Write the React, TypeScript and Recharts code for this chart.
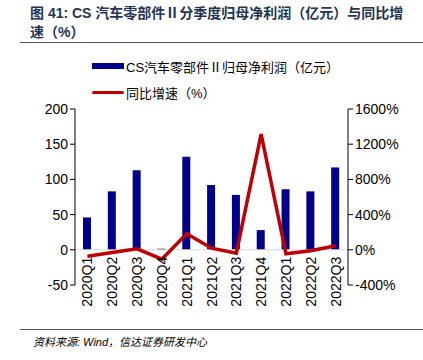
import {
  ComposedChart, Bar, Line, XAxis, YAxis, ReferenceLine,
} from 'recharts';

// 季度
const quarters = [
  '2020Q1', '2020Q2', '2020Q3', '2020Q4',
  '2021Q1', '2021Q2', '2021Q3', '2021Q4',
  '2022Q1', '2022Q2', '2022Q3',
];
// 归母净利润（亿元）
const profit = [46, 83, 113, 1.5, 132, 92, 78, 28, 86, 83, 117];
// 同比增速（%）
const growth = [-73, -30, 11, -107, 183, 18, -39, 1314, -46, -10, 46];

const leftTicks = [-50, 0, 50, 100, 150, 200];
const rightTicks = [-400, 0, 400, 800, 1200, 1600];

const BAR_NAME = 'CS汽车零部件Ⅱ归母净利润（亿元）';
const LINE_NAME = '同比增速（%）';

const data = quarters.map((q, i) => ({ q, profit: profit[i], growth: growth[i] }));

const W = 423;
const H = 360;
const M = { top: 109, right: 15, bottom: 74, left: 15 };
const X_AXIS_H = 1;
const plotH = H - M.top - M.bottom - X_AXIS_H;
const zeroY = M.top + (plotH * 200) / 250;

const FONT = '"Liberation Sans", Arial, "Noto Sans CJK SC", sans-serif';

const QuarterTick = (props: any) => {
  const { x, payload } = props;
  return (
    <text
      transform={`translate(${x + 5},${zeroY + 7}) rotate(-90)`}
      textAnchor="end"
      fontSize={14}
      fontFamily={FONT}
      fill="#000"
    >
      {payload.value}
    </text>
  );
};

export default function App() {
  return (
    <div style={{ position: 'absolute', left: 0, top: 0, width: W, height: H, background: '#fff', fontFamily: FONT }}>
      {/* 标题 */}
      <div
        style={{
          position: 'absolute', left: 30, top: 4, width: 385,
          fontSize: 14, fontWeight: 'bold', lineHeight: '19px', color: '#243452',
        }}
      >
        图 41: CS 汽车零部件Ⅱ分季度归母净利润（亿元）与同比增速（%）
      </div>
      <div style={{ position: 'absolute', left: 20, top: 42, width: 403, height: 1, background: '#555' }} />

      <div style={{ position: 'absolute', left: 0, top: 0 }}>
        <ComposedChart width={W} height={H} data={data} margin={M}>
          <XAxis
            dataKey="q"
            xAxisId="x"
            height={X_AXIS_H}
            axisLine={false}
            tickLine={false}
            interval={0}
            tick={<QuarterTick />}
          />
          <YAxis
            yAxisId="left"
            orientation="left"
            width={60}
            domain={[-50, 200]}
            ticks={leftTicks}
            interval={0}
            axisLine={{ stroke: '#000' }}
            tickLine={{ stroke: '#000' }}
            tickSize={5}
            tick={{ fill: '#000', fontSize: 14, fontFamily: FONT }}
          />
          <YAxis
            yAxisId="right"
            orientation="right"
            width={60}
            domain={[-400, 1600]}
            ticks={rightTicks}
            interval={0}
            axisLine={{ stroke: '#000' }}
            tickLine={{ stroke: '#000' }}
            tickSize={5}
            tickFormatter={(v: number) => `${v}%`}
            tick={{ fill: '#000', fontSize: 14, fontFamily: FONT }}
          />
          <ReferenceLine yAxisId="left" xAxisId="x" y={0} stroke="#d9d9d9" strokeWidth={1} />
          <Bar
            xAxisId="x"
            yAxisId="left"
            dataKey="profit"
            name={BAR_NAME}
            fill="#00008b"
            barSize={8}
            isAnimationActive={false}
          />
          <Line
            xAxisId="x"
            yAxisId="right"
            type="linear"
            dataKey="growth"
            name={LINE_NAME}
            stroke="#c00000"
            strokeWidth={3.5}
            dot={false}
            activeDot={false}
            isAnimationActive={false}
          />
        </ComposedChart>
      </div>

      {/* 图例 */}
      <div style={{ position: 'absolute', left: 92, top: 53, fontSize: 13, color: '#000' }}>
        <div style={{ display: 'flex', alignItems: 'center', height: 26 }}>
          <span style={{ width: 32, height: 6, background: '#00008b', marginRight: 2 }} />
          <span>{BAR_NAME}</span>
        </div>
        <div style={{ display: 'flex', alignItems: 'center', height: 26 }}>
          <span style={{ width: 32, height: 3, background: '#c00000', borderRadius: 2, marginRight: 2 }} />
          <span>{LINE_NAME}</span>
        </div>
      </div>

      {/* 资料来源 */}
      <div style={{ position: 'absolute', left: 20, top: 329, width: 403, height: 1, background: '#555' }} />
      <div
        style={{
          position: 'absolute', left: 33, top: 333, fontSize: 11, fontStyle: 'italic', color: '#000',
        }}
      >
        资料来源: Wind，信达证券研发中心
      </div>
    </div>
  );
}
